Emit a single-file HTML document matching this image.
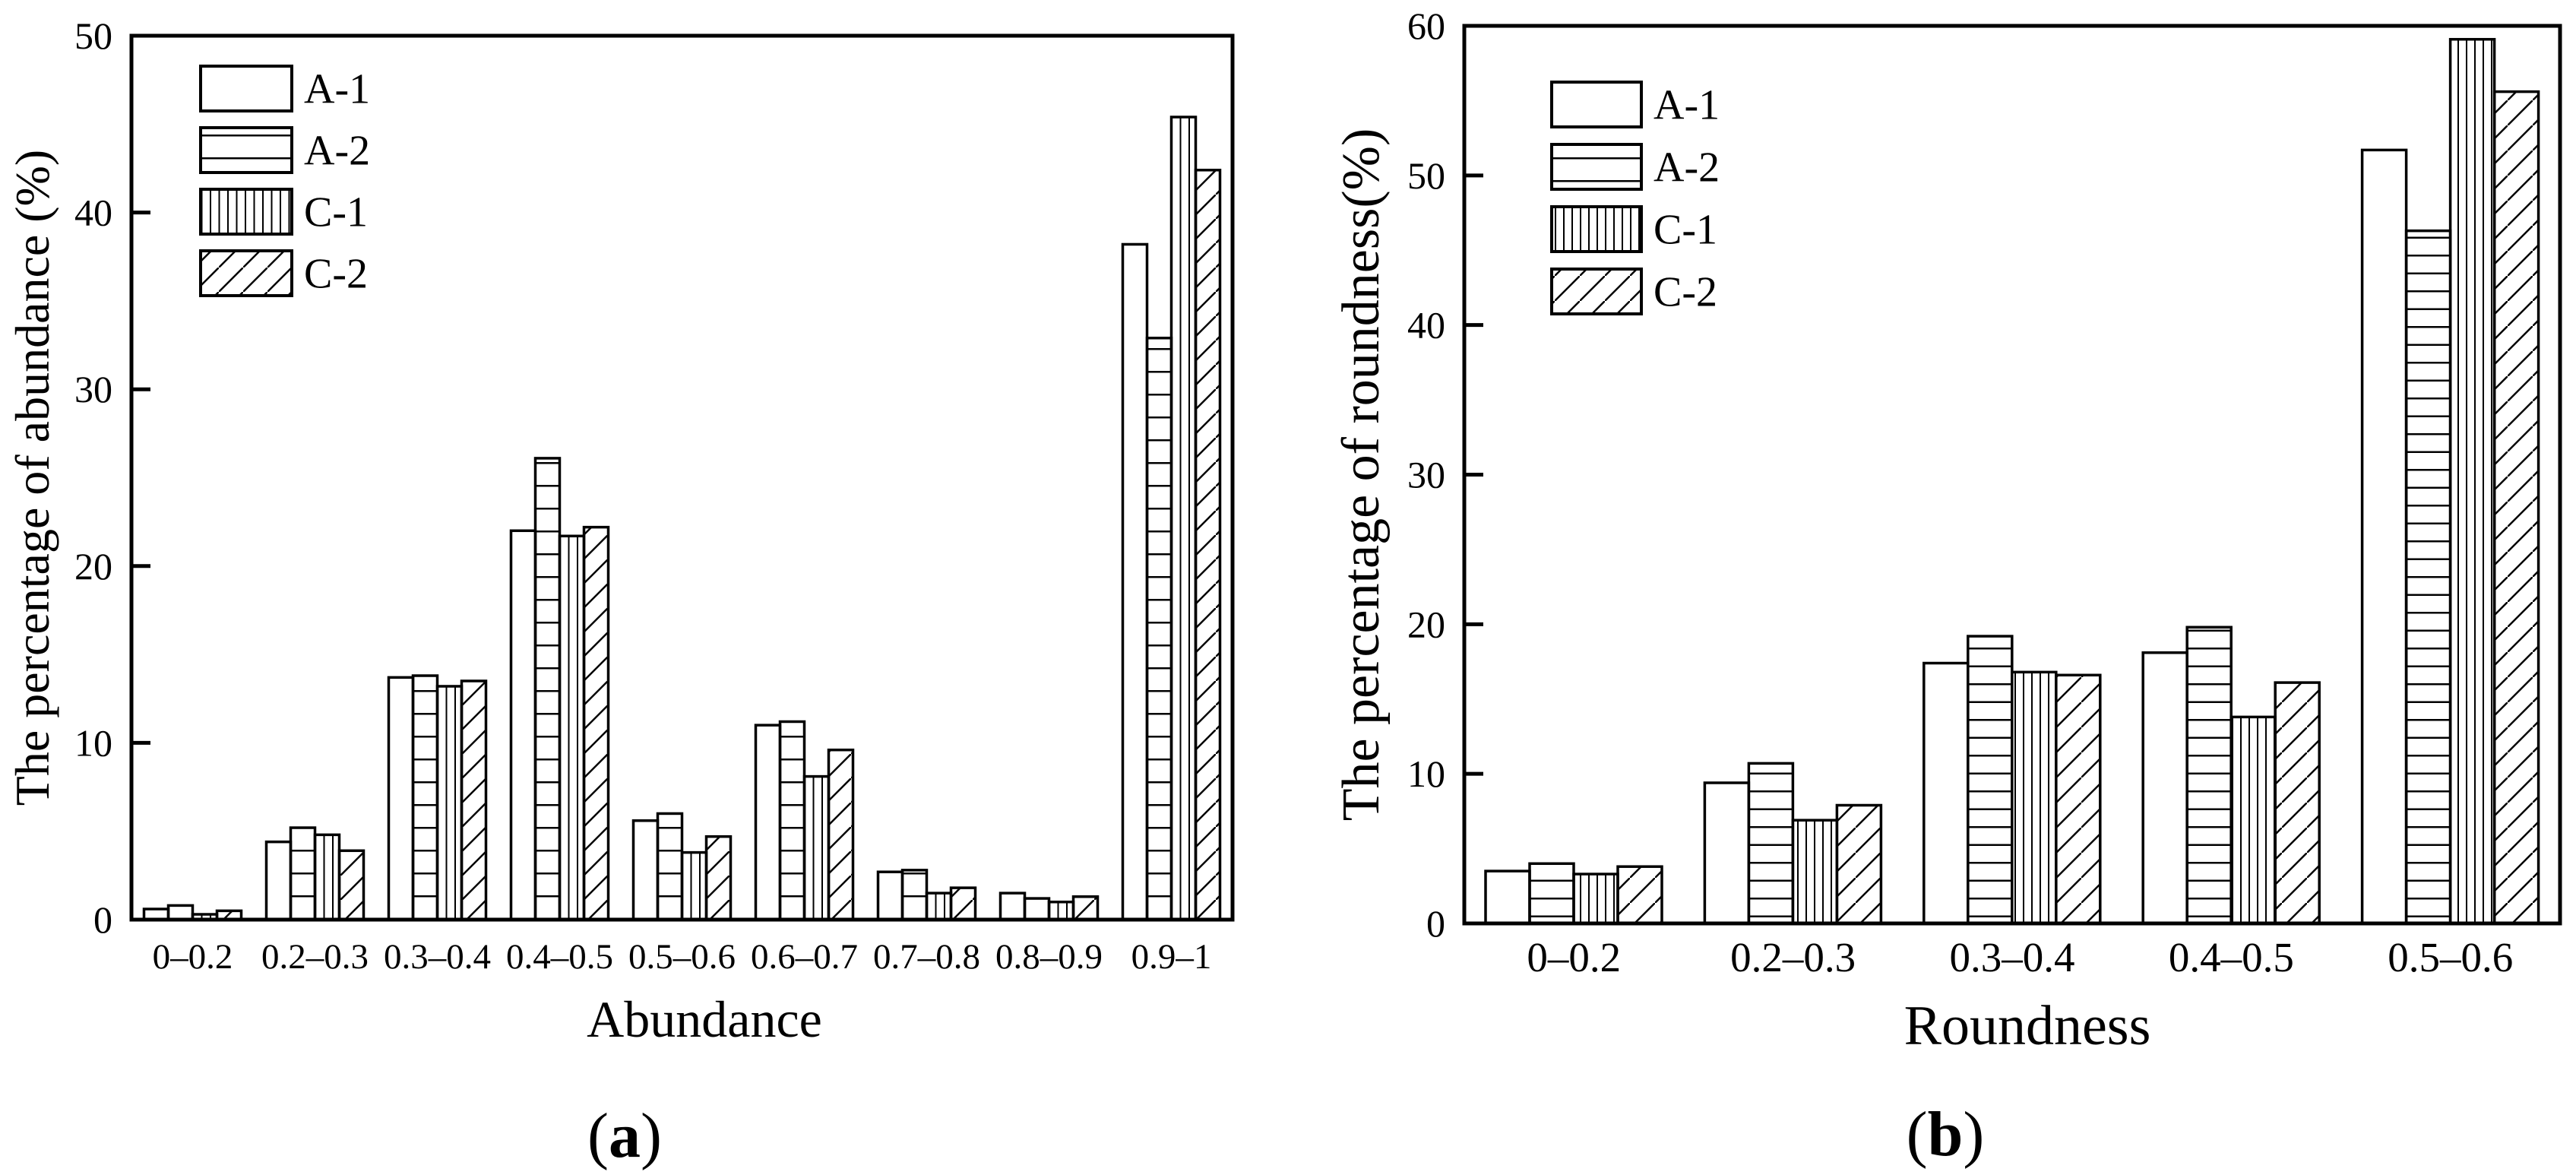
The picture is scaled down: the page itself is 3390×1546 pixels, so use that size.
<!DOCTYPE html>
<html><head><meta charset="utf-8"><style>
html,body{margin:0;padding:0;background:#fff}
svg{display:block}
text{font-family:"Liberation Serif",serif;fill:#000}
</style></head><body>
<svg id="svg" width="3390" height="1546" viewBox="0 0 3390 1546" xmlns="http://www.w3.org/2000/svg">
<defs>
<pattern id="pa-h" patternUnits="userSpaceOnUse" width="40" height="30" y="8"><line x1="0" y1="1" x2="40" y2="1" stroke="#000" stroke-width="3"/></pattern>
<pattern id="pa-v" patternUnits="userSpaceOnUse" width="11.5" height="40"><line x1="1" y1="0" x2="1" y2="40" stroke="#000" stroke-width="2"/></pattern>
<pattern id="pa-d" patternUnits="userSpaceOnUse" width="32" height="32"><line x1="-4" y1="36" x2="36" y2="-4" stroke="#000" stroke-width="2.5"/></pattern>
<pattern id="pb-h" patternUnits="userSpaceOnUse" width="40" height="23.5" y="6"><line x1="0" y1="1" x2="40" y2="1" stroke="#000" stroke-width="3"/></pattern>
<pattern id="pb-v" patternUnits="userSpaceOnUse" width="11" height="40"><line x1="1" y1="0" x2="1" y2="40" stroke="#000" stroke-width="2"/></pattern>
<pattern id="pb-d" patternUnits="userSpaceOnUse" width="33" height="33"><line x1="-4" y1="37" x2="37" y2="-4" stroke="#000" stroke-width="2.5"/></pattern>
<pattern id="pl-h" patternUnits="userSpaceOnUse" width="40" height="30" y="-3"><line x1="0" y1="1" x2="40" y2="1" stroke="#000" stroke-width="3"/></pattern>
</defs>
<g id="chartA"></g>
<g id="chartB"></g>
</svg>
<script>
const seriesNames = ["A-1","A-2","C-1","C-2"];
const catsA = ["0–0.2","0.2–0.3","0.3–0.4","0.4–0.5","0.5–0.6","0.6–0.7","0.7–0.8","0.8–0.9","0.9–1"];
const a1A = [0.6,4.4,13.7,22.0,5.6,11.0,2.7,1.5,38.2];
const a2A = [0.8,5.2,13.8,26.1,6.0,11.2,2.8,1.2,32.9];
const c1A = [0.3,4.8,13.2,21.7,3.8,8.1,1.5,1.0,45.4];
const c2A = [0.5,3.9,13.5,22.2,4.7,9.6,1.8,1.3,42.4];
const ticksA = [0,10,20,30,40,50];
const catsB = ["0–0.2","0.2–0.3","0.3–0.4","0.4–0.5","0.5–0.6"];
const a1B = [3.5,9.4,17.4,18.1,51.7];
const a2B = [4.0,10.7,19.2,19.8,46.3];
const c1B = [3.3,6.9,16.8,13.8,59.1];
const c2B = [3.8,7.9,16.6,16.1,55.6];
const ticksB = [0,10,20,30,40,50,60];

const NS="http://www.w3.org/2000/svg";
function mk(tag,attrs,parent){const e=document.createElementNS(NS,tag);for(const k in attrs)e.setAttribute(k,attrs[k]);parent.appendChild(e);return e;}

function draw(g,cfg){
  const {L,R,T,B,ymax,cats,series,ticks,pref,barW,offset,xTitle,yTitle,xTitleX,yTitleX,panel,panelX,legX,legY,legW,legH,legStep,tickLblY,xTitleY,panelY,ytickX,xfs,xtfs,ytfs}=cfg;
  const y=v=>B-(v/ymax)*(B-T);
  const gw=(R-L)/cats.length;
  const fills=["#fff","url(#"+pref+"-h)","url(#"+pref+"-v)","url(#"+pref+"-d)"];
  cats.forEach((c,i)=>{
    series.forEach((s,j)=>{
      const x=L+i*gw+offset+j*barW;
      const r=mk('rect',{x:x,y:y(s[i]),width:barW,height:B-y(s[i]),fill:fills[j],stroke:'#000','stroke-width':3.5},g);
      
      
    });
    const t=mk('text',{x:L+i*gw+gw/2,y:tickLblY,'font-size':xfs,'text-anchor':'middle'},g);
    t.textContent=c;
    
    
  });
  ticks.forEach(v=>{
    const ln=mk('line',{x1:L,x2:L+25,y1:y(v),y2:y(v),stroke:'#000','stroke-width':5},g);
    
    
    const t=mk('text',{x:ytickX,y:y(v)+17,'font-size':50,'text-anchor':'end'},g);
    t.textContent=v;
    
    
  });
  const fr=mk('rect',{x:L,y:T,width:R-L,height:B-T,fill:'none',stroke:'#000','stroke-width':5},g);
  
  
  const lfills=["#fff","url(#pl-h)","url(#"+pref+"-v)","url(#"+pref+"-d)"];
  seriesNames.forEach((n,j)=>{
    const yy=legY+j*legStep;
    const r=mk('rect',{x:legX,y:yy,width:legW,height:legH,fill:lfills[j],stroke:'#000','stroke-width':4},g);
    
    
    const t=mk('text',{x:legX+legW+16,y:yy+legH/2+19,'font-size':56},g);
    t.textContent=n;
    
    
  });
  const xt=mk('text',{x:xTitleX,y:xTitleY,'font-size':xtfs,'text-anchor':'middle'},g);
  xt.textContent=xTitle;
  
  
  const yt=mk('text',{x:0,y:0,'font-size':ytfs,'text-anchor':'middle',transform:'translate('+yTitleX+','+((T+B)/2)+') rotate(-90)'},g);
  yt.textContent=yTitle;
  
  
  const pl=mk('text',{x:panelX,y:panelY,'font-size':84,'text-anchor':'middle'},g);
  pl.innerHTML='(<tspan font-weight="bold">'+panel+'</tspan>)';
  
  
}
draw(document.getElementById('chartA'),{L:173,R:1622,T:47,B:1210,ymax:50,cats:catsA,series:[a1A,a2A,c1A,c2A],ticks:ticksA,pref:'pa',barW:32,offset:16.5,
 xTitle:'Abundance',yTitle:'The percentage of abundance (%)',xTitleX:927,yTitleX:64,panel:'a',panelX:822,panelY:1522,
 legX:264,legY:87,legW:120,legH:59,legStep:81,tickLblY:1274,xTitleY:1364,ytickX:148,xfs:47,xtfs:68,ytfs:64});
draw(document.getElementById('chartB'),{L:1927,R:3369,T:34,B:1215,ymax:60,cats:catsB,series:[a1B,a2B,c1B,c2B],ticks:ticksB,pref:'pb',barW:58,offset:28,
 xTitle:'Roundness',yTitle:'The percentage of roundness(%)',xTitleX:2668,yTitleX:1814,panel:'b',panelX:2560,panelY:1520,
 legX:2042,legY:108,legW:118,legH:59,legStep:82,tickLblY:1278,xTitleY:1374,ytickX:1902,xfs:55,xtfs:74,ytfs:70});
</script>
</body></html>
